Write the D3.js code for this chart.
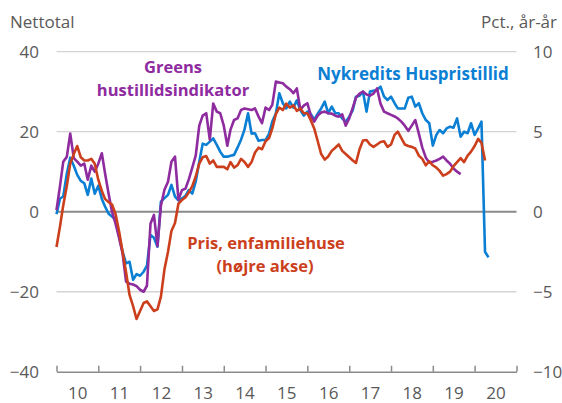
<!DOCTYPE html>
<html>
<head>
<meta charset="utf-8">
<title>Boligtillid og huspriser</title>
<script src="https://d3js.org/d3.v7.min.js"></script>
<style>
  body { margin: 0; background: #fff; }
  svg text { font-family: "Open Sans", "Noto Sans", sans-serif; }
  .tick_label text { fill: #595959; font-size: 17px; }
  .unit { fill: #595959; font-size: 17px; }
  .note { font-weight: 700; font-size: 17px; text-anchor: middle; }
  .note_small { font-size: 16.5px; }
</style>
</head>
<body>
<div id="chart"></div>
<script>
// monthly series, first value = jan 2010
const startMonth = new Date(2010, 0, 1);

// Greens hustillidsindikator (nettotal, left axis)
const greens = [
  0.4, 6.5, 12.5, 13.7, 19.5, 13.4, 12.5, 11.5, 12, 8,
  11.5, 10, 12, 14.6, 9.6, 4.5, 0, -3, -6.5, -10.4,
  -17.5, -18, -18.2, -18.6, -19.5, -20, -18.5, -3, -0.8, -8.6,
  1.5, 5.5, 7.5, 12.5, 13.75, 3, 5.4, 5.8, 8, 11,
  14, 21.5, 24, 24.6, 18, 27, 25, 24.6, 21.5, 16.5,
  20.5, 22.9, 23.3, 25.4, 25.8, 25.6, 25.4, 25.8, 23.75, 22.1,
  26, 25.4, 26.7, 32.5, 32.3, 32.1, 31.25, 30.6, 29.6, 30.8,
  25.5, 26.5, 27.1, 24, 22.5, 24, 24.8, 25, 24.6, 24.5,
  24, 23.75, 24.3, 21.5, 23.3, 26, 28.5, 29.5, 30, 29.3,
  29, 29.5, 30.8, 27, 25, 24.6, 24.2, 23.8, 23.3, 22.5,
  21.5, 20.2, 21.5, 22.9, 19.5, 16, 13.5, 12.3, 12.5, 12.8,
  13.2, 13.75, 12.8, 12, 10.8, 10, 9.4
];

// Nykredits Huspristillid (nettotal, left axis)
const nykredit = [
  -0.6, 3.3, 3.8, 9.5, 13.5, 11.5, 9.2, 7.7, 7.1, 4.2,
  8.3, 4.5, 6.5, 3.2, 1.3, -0.5, -1.2, -2, -6, -10,
  -12.9, -12.5, -17, -15.6, -16, -15, -13.5, -5.8, -6.5, -8.75,
  2.5, 3.4, 4.2, 6.7, 3.75, 2.8, 3.3, 4, 5.4, 4.5,
  7.5, 12.5, 17, 16.7, 17.5, 18.3, 16.7, 15, 13.75, 13.75,
  14, 14.2, 16, 18, 20.5, 24.6, 19.5, 19.6, 17.7, 17.9,
  17.9, 19.5, 22.5, 24.5, 29.6, 27.1, 25.8, 27.5, 26, 27.8,
  25.4, 24, 25, 24.4, 23, 24.5, 25.8, 27.5, 24.6, 26.25,
  24.6, 24.6, 23.3, 22.5, 23.75, 25.4, 28.75, 29, 30, 25,
  30, 30.2, 30.4, 31.25, 28.75, 27.9, 28.75, 27.1, 25.8, 25.8,
  25.8, 28.5, 28.75, 26.25, 27.1, 24.6, 22.9, 22.1, 16.5, 19.2,
  20.4, 19.6, 20.8, 21.25, 21, 23.3, 18.75, 20, 19.6, 22.1,
  19.2, 20.8, 22.5, -10, -11.4
];

// Pris, enfamiliehuse (pct. år-år, right axis)
const prices = [
  -2.2, -0.9, 0.4, 1.6, 3.0, 3.6, 4.1, 3.4, 3.2, 3.2,
  3.3, 3.0, 2.0, 1.3, 0.8, 0.6, 0.45, -0.15, -1.2, -2.5,
  -3.8, -5.2, -5.9, -6.7, -6.2, -5.7, -5.6, -5.9, -6.2, -6.1,
  -5.3, -3.6, -2.5, -1.2, -0.7, 0.5, 0.73, 0.9, 1.2, 1.6,
  2.2, 3.0, 3.4, 3.48, 3.0, 3.2, 2.8, 2.8, 2.8, 2.65,
  3.1, 2.75, 2.9, 3.3, 3.1, 2.8, 3.1, 3.7, 4.0, 3.9,
  4.4, 4.6, 5.2, 6.1, 6.5, 6.35, 6.75, 6.5, 6.65, 6.3,
  6.45, 6.15, 6.15, 5.7, 5.2, 4.4, 3.6, 3.25, 3.45, 3.8,
  4.0, 4.2, 3.8, 3.6, 3.4, 3.2, 3.05, 3.9, 4.45, 4.48,
  4.2, 4.05, 4.2, 4.35, 4.4, 4.05, 4.2, 4.8, 5.0, 4.6,
  4.2, 4.1, 4.05, 3.95, 3.5, 3.3, 2.9, 3.15, 2.9, 2.75,
  2.55, 2.25, 2.35, 2.5, 2.85, 3.1, 3.35, 3.1, 3.5, 3.75,
  4.1, 4.55, 4.3, 3.2
];

const years = [2010, 2011, 2012, 2013, 2014, 2015, 2016, 2017, 2018, 2019, 2020];
const yearLabels = ["10", "11", "12", "13", "14", "15", "16", "17", "18", "19", "20"];
const leftTicks = [40, 20, 0, -20, -40];
const rightTicks = [10, 5, 0, -5, -10];

const colors = {greens: "#8e2b9f", nykredit: "#0b7fd4", prices: "#cc3f1c"};

// chart dimensions
const width = 562, height = 403;
const plot = {left: 56.5, right: 516.5, top: 51.6, bottom: 371.8};

const svg = d3.select("#chart")
  .append("svg")
    .attr("width", width)
    .attr("height", height);

// scales
const x = d3.scaleTime()
  .domain([new Date(2010, 0, 1), new Date(2021, 0, 1)])
  .range([plot.left, plot.right]);

const yLeft = d3.scaleLinear()
  .domain([-40, 40])
  .range([plot.bottom, plot.top]);

const yRight = d3.scaleLinear()
  .domain([-10, 10])
  .range([plot.bottom, plot.top]);

const monthDate = i => d3.timeMonth.offset(startMonth, i);

// gridlines
svg.append("g")
  .selectAll("line")
  .data(leftTicks.filter(d => d !== -40))
  .enter()
  .append("line")
    .attr("x1", plot.left)
    .attr("x2", plot.right)
    .attr("y1", d => yLeft(d))
    .attr("y2", d => yLeft(d))
    .attr("stroke", d => d === 0 ? "#8a8a8a" : "#d4d4d4")
    .attr("stroke-width", d => d === 0 ? 2 : 1.3);

// bottom axis with ticks pointing up
const yearStarts = years.map(y => new Date(y, 0, 1)).concat([new Date(2021, 0, 1)]);
const xAxis = svg.append("g")
  .attr("transform", `translate(0,${plot.bottom})`)
  .call(d3.axisBottom(x).tickValues(yearStarts).tickSize(-6).tickSizeOuter(0).tickFormat(""));
xAxis.selectAll("line, path").attr("stroke", "#8a8a8a").attr("stroke-width", 1.5);

// year labels centred in each year
svg.append("g")
  .attr("class", "tick_label")
  .attr("transform", `translate(0,${plot.bottom})`)
  .call(d3.axisBottom(x)
    .tickValues(years.map(y => new Date(y, 6, 1)))
    .tickSize(0)
    .tickPadding(15)
    .tickFormat((d, i) => yearLabels[i]))
  .call(g => g.select(".domain").remove())
  .selectAll("text").attr("font-size", null).attr("font-family", null);

// left labels
svg.append("g")
  .attr("class", "tick_label")
  .attr("transform", "translate(39,0)")
  .call(d3.axisLeft(yLeft).tickValues(leftTicks).tickSize(0).tickPadding(0))
  .call(g => g.select(".domain").remove())
  .selectAll("text").attr("font-size", null).attr("font-family", null);

// right labels
svg.append("g")
  .attr("class", "tick_label")
  .attr("transform", "translate(533,0)")
  .call(d3.axisRight(yRight).tickValues(rightTicks).tickSize(0).tickPadding(0))
  .call(g => g.select(".domain").remove())
  .selectAll("text").attr("font-size", null).attr("font-family", null);

// unit titles
svg.append("text").attr("class", "unit").attr("x", 10).attr("y", 28).text("Nettotal");
svg.append("text").attr("class", "unit").attr("x", 557).attr("y", 28)
  .attr("text-anchor", "end").text("Pct., år-år");

// lines
const lineLeft = d3.line()
  .x((d, i) => x(monthDate(i)))
  .y(d => yLeft(d));

const lineRight = d3.line()
  .x((d, i) => x(monthDate(i)))
  .y(d => yRight(d));

svg.append("path")
  .datum(nykredit)
  .attr("fill", "none")
  .attr("stroke", colors.nykredit)
  .attr("stroke-width", 2.6)
  .attr("stroke-linejoin", "round")
  .attr("d", lineLeft);

svg.append("path")
  .datum(greens)
  .attr("fill", "none")
  .attr("stroke", colors.greens)
  .attr("stroke-width", 2.6)
  .attr("stroke-linejoin", "round")
  .attr("d", lineLeft);

svg.append("path")
  .datum(prices)
  .attr("fill", "none")
  .attr("stroke", colors.prices)
  .attr("stroke-width", 2.6)
  .attr("stroke-linejoin", "round")
  .attr("d", lineRight);

// series notes
svg.append("text").attr("class", "note note_small").attr("fill", colors.greens)
  .attr("x", 173).attr("y", 73).text("Greens");
svg.append("text").attr("class", "note note_small").attr("fill", colors.greens)
  .attr("x", 173).attr("y", 96).text("hustillidsindikator");
svg.append("text").attr("class", "note").attr("fill", colors.nykredit)
  .attr("x", 413).attr("y", 80).text("Nykredits Huspristillid");
svg.append("text").attr("class", "note note_small").attr("fill", colors.prices)
  .attr("x", 266).attr("y", 249).text("Pris, enfamiliehuse");
svg.append("text").attr("class", "note note_small").attr("fill", colors.prices)
  .attr("x", 265).attr("y", 272).text("(højre akse)");
</script>
</body>
</html>
